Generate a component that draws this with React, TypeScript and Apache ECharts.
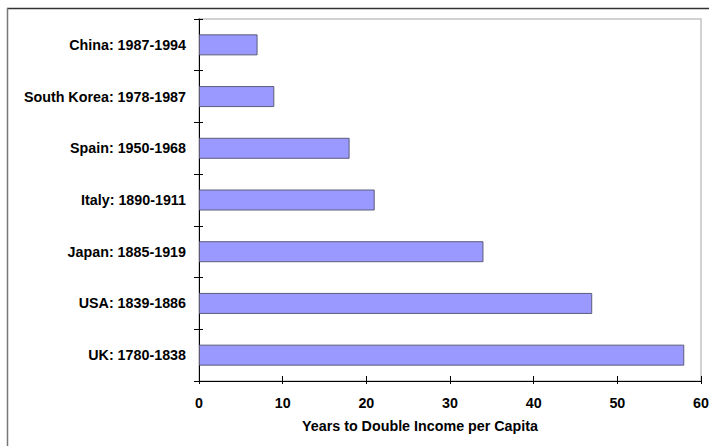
import React, { useEffect, useRef } from "react";
import * as echarts from "echarts";

const categories = [
  "UK: 1780-1838",
  "USA: 1839-1886",
  "Japan: 1885-1919",
  "Italy: 1890-1911",
  "Spain: 1950-1968",
  "South Korea: 1978-1987",
  "China: 1987-1994",
];
const yearsToDouble = [58, 47, 34, 21, 18, 9, 7];
const xMin = 0;
const xMax = 60;
const xInterval = 10;
const xTitle = "Years to Double Income per Capita";

const FONT = '"Liberation Sans", Arial, sans-serif';
const FS = 14.3;

export default function App() {
  const ref = useRef<HTMLDivElement>(null);
  useEffect(() => {
    if (!ref.current) return;
    const chart = echarts.init(ref.current, undefined, { renderer: "svg" });
    const gridLeft = 199, gridTop = 19, gridRight = 8, gridBottom = 65;
    chart.setOption({
      animation: false,
      backgroundColor: "#ffffff",
      grid: {
        left: gridLeft,
        top: gridTop,
        right: gridRight,
        bottom: gridBottom,
        show: true,
        borderColor: "#c4c4c4",
        borderWidth: 1.5,
        containLabel: false,
        outerBoundsMode: "none",
      },
      xAxis: [
        {
          type: "value",
          min: xMin,
          max: xMax,
          interval: xInterval,
          position: "bottom",
          splitLine: { show: false },
          axisLine: { show: true, lineStyle: { color: "#000", width: 1 } },
          axisTick: { show: true, inside: false, length: 3, lineStyle: { color: "#000" } },
          axisLabel: {
            margin: 15,
            color: "#000",
            fontFamily: FONT,
            fontWeight: "bold",
            fontSize: FS,
          },
        },
        {
          type: "value",
          min: xMin,
          max: xMax,
          interval: xInterval,
          position: "bottom",
          splitLine: { show: false },
          axisLine: { show: false },
          axisTick: { show: true, inside: true, length: 5, lineStyle: { color: "#000" } },
          axisLabel: { show: false },
        },
      ],
      yAxis: [
        {
          type: "category",
          data: categories,
          position: "left",
          axisLine: { show: true, lineStyle: { color: "#000", width: 1 } },
          axisTick: { show: true, inside: false, length: 5, lineStyle: { color: "#000" } },
          axisLabel: {
            margin: 13,
            color: "#000",
            fontFamily: FONT,
            fontWeight: "bold",
            fontSize: FS,
          },
        },
        {
          type: "category",
          data: categories,
          position: "left",
          axisLine: { show: false },
          axisTick: { show: true, inside: true, length: 4, lineStyle: { color: "#000" } },
          axisLabel: { show: false },
        },
      ],
      series: [
        {
          type: "bar",
          data: yearsToDouble,
          xAxisIndex: 0,
          yAxisIndex: 0,
          barWidth: 21,
          itemStyle: { color: "#9999ff", borderColor: "#5c5c7a", borderWidth: 1 },
        },
      ],
      graphic: [
        {
          type: "line",
          shape: { x1: 7, y1: 8.5, x2: 709, y2: 8.5 },
          style: { stroke: "#333", lineWidth: 1.5 },
        },
        {
          type: "line",
          shape: { x1: 7.5, y1: 8, x2: 7.5, y2: 446 },
          style: { stroke: "#777", lineWidth: 1.5 },
        },
        {
          type: "text",
          x: 420,
          y: 426,
          style: {
            text: xTitle,
            fill: "#000",
            font: `bold ${FS}px ${FONT}`,
            textAlign: "center",
            textVerticalAlign: "middle",
          },
        },
      ],
    });
    return () => chart.dispose();
  }, []);
  return (
    <div
      ref={ref}
      style={{ position: "absolute", left: 0, top: 0, width: 709, height: 446 }}
    />
  );
}
